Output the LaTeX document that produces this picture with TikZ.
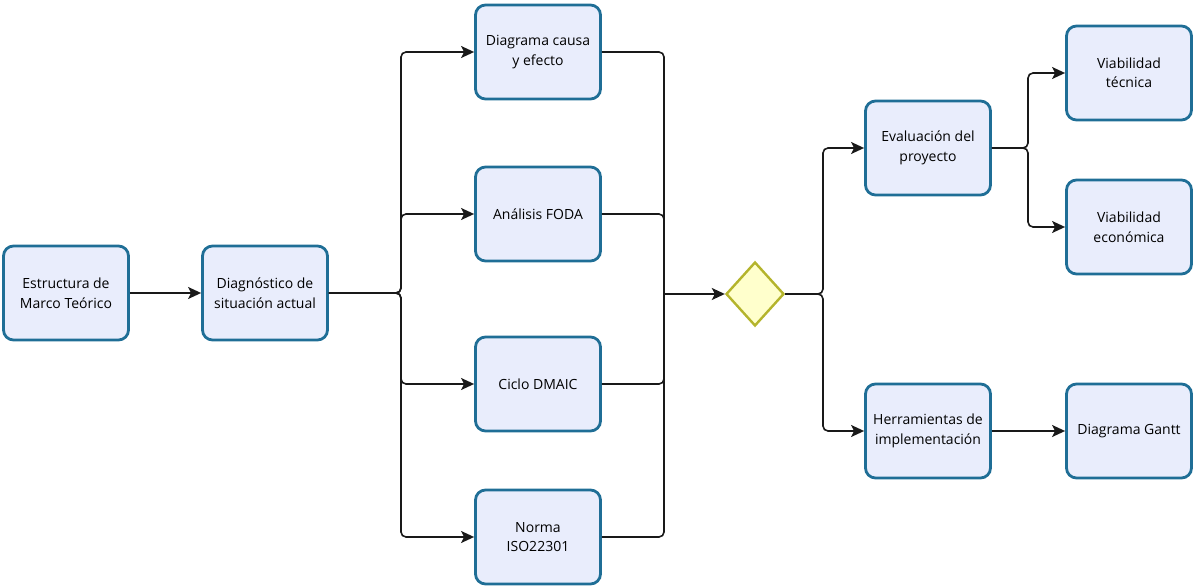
\documentclass[tikz,border=0pt]{standalone}
\usepackage{fontspec}
\setmainfont{Open Sans}
\usetikzlibrary{arrows.meta,shapes.geometric}
\definecolor{boxline}{HTML}{1F6E96}
\definecolor{boxfill}{HTML}{E9EDFC}
\definecolor{gateline}{HTML}{B4B42C}
\definecolor{gatefill}{HTML}{FFFFCC}
\tikzset{
  stepbox/.style={draw=boxline, fill=boxfill, line width=2.8pt, rounded corners=10pt,
    minimum width=125pt, minimum height=94pt, align=center,
    font=\fontsize{14}{19.5}\selectfont, inner sep=2pt},
  gate/.style={draw=gateline, fill=gatefill, line width=2.4pt, diamond,
    minimum width=58pt, minimum height=64pt, inner sep=0pt, shape aspect=0.9},
  link/.style={line width=1.6pt, draw=black!90, rounded corners=5pt},
  arr/.style={link, -{Stealth[length=13pt,width=12pt,inset=3pt]}}
}
\begin{document}
\begin{tikzpicture}[x=1pt,y=-1pt]
\useasboundingbox (0,0) rectangle (1196,588);

% boxes
\node[stepbox] (mt)   at (66,293)   {Estructura de\\Marco Teórico};
\node[stepbox] (dx)   at (265,293)  {Diagnóstico de\\situación actual};
\node[stepbox] (ce)   at (538,52)   {Diagrama causa\\y efecto};
\node[stepbox] (foda) at (538,214)  {Análisis FODA};
\node[stepbox] (dm)   at (538,384)  {Ciclo DMAIC};
\node[stepbox] (iso)  at (538,537)  {Norma\\ISO22301};
\node[gate]    (g)    at (755,294)  {};
\node[stepbox] (ev)   at (928,148)  {Evaluación del\\proyecto};
\node[stepbox] (vt)   at (1129,73)  {Viabilidad\\técnica};
\node[stepbox] (ve)   at (1129,227) {Viabilidad\\económica};
\node[stepbox] (hi)   at (928,431)  {Herramientas de\\implementación};
\node[stepbox] (gt)   at (1129,431) {Diagrama Gantt};

% junction points
\coordinate (s1) at (401,293);
\coordinate (m1) at (664,294);
\coordinate (s2) at (823,294);
\coordinate (s3) at (1028,148);

% connectors
\draw[arr] (mt.east) -- (dx.west);
\foreach \t in {ce,foda,dm,iso}
  \draw[arr] (dx.east) -- (s1) |- (\t.west);
\foreach \t in {ce,foda,dm,iso}
  \draw[link] (\t.east) -| (m1);
\draw[arr] (m1) -- (g.west);
\foreach \t in {ev,hi}
  \draw[arr] (g.east) -- (s2) |- (\t.west);
\foreach \t in {vt,ve}
  \draw[arr] (ev.east) -- (s3) |- (\t.west);
\draw[arr] (hi.east) -- (gt.west);
\end{tikzpicture}
\end{document}
